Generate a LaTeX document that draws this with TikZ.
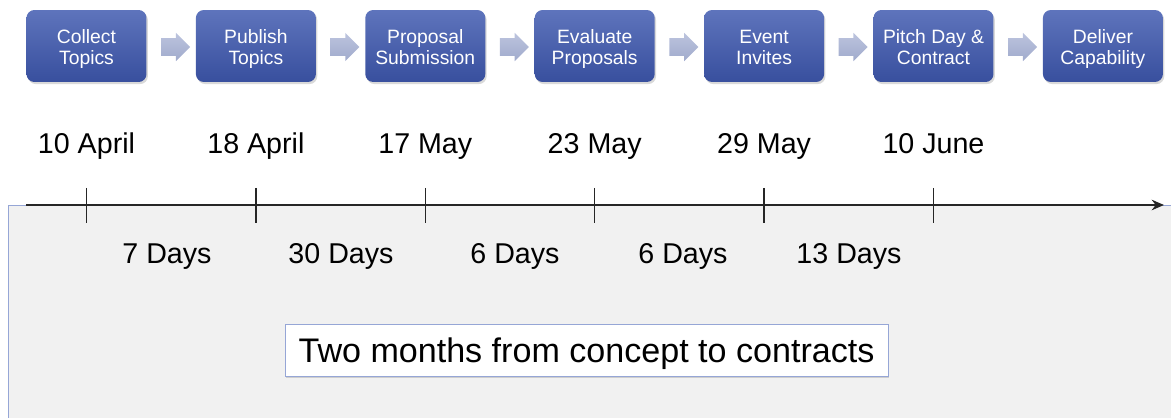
\documentclass[tikz,border=0pt]{standalone}
\usepackage{fontspec}
\setmainfont{Liberation Sans}
\usetikzlibrary{shapes.arrows,shadows,arrows.meta}

\definecolor{boxtop}{RGB}{94,116,188}
\definecolor{boxbot}{RGB}{56,79,158}
\definecolor{flowtop}{RGB}{188,196,222}
\definecolor{flowbot}{RGB}{160,170,204}
\definecolor{panelgray}{RGB}{241,241,241}
\definecolor{panelline}{RGB}{150,166,214}

\begin{document}
\begin{tikzpicture}[x=0.02cm,y=-0.02cm,
  stepbox/.style={rectangle, rounded corners=4.5pt, top color=boxtop, bottom color=boxbot, text=white,
    minimum width=2.4cm, minimum height=1.44cm, align=center, font=\fontsize{11}{12}\selectfont,
    text height=23pt, text depth=2pt,
    drop shadow={opacity=0.3, shadow xshift=0.8pt, shadow yshift=-1.2pt}},
  flow/.style={single arrow, top color=flowtop, bottom color=flowbot, minimum height=0.58cm,
    inner xsep=0pt, inner ysep=4.8pt, single arrow head extend=3.1pt},
  datelabel/.style={font=\fontsize{16.3}{19}\selectfont, text height=11.7pt, text depth=0pt},
  tickline/.style={line width=0.7pt, black!85}]
\useasboundingbox (0,0) rectangle (1171,418);

% grey panel under the time axis
\draw[panelline, fill=panelgray] (8,205) rectangle (1180,430);

% process steps
\node[stepbox] (s1) at (86.5,46) {Collect\\Topics};
\node[stepbox] (s2) at (255.9,46) {Publish\\Topics};
\node[stepbox] (s3) at (425.3,46) {Proposal\\Submission};
\node[stepbox] (s4) at (594.7,46) {Evaluate\\Proposals};
\node[stepbox] (s5) at (764.1,46) {Event\\Invites};
\node[stepbox] (s6) at (933.5,46) {Pitch Day \&\\Contract};
\node[stepbox] (s7) at (1102.9,46) {Deliver\\Capability};

\node[flow] (f1) at (171.2,47) {};
\node[flow] (f2) at (340.6,47) {};
\node[flow] (f3) at (510.0,47) {};
\node[flow] (f4) at (679.4,47) {};
\node[flow] (f5) at (848.8,47) {};
\node[flow] (f6) at (1018.2,47) {};

% dates
\node[datelabel] (d1) at (86.5,143) {10 April};
\node[datelabel] (d2) at (255.9,143) {18 April};
\node[datelabel] (d3) at (425.3,143) {17 May};
\node[datelabel] (d4) at (594.7,143) {23 May};
\node[datelabel] (d5) at (764.1,143) {29 May};
\node[datelabel] (d6) at (933.5,143) {10 June};

% time axis
\coordinate (a0) at (26,205);
\coordinate (a1) at (1164,205);
\draw[line width=1pt, black!85, -{Stealth[length=7pt,width=6pt]}] (a0) -- (a1);
\draw[tickline] (86.5,188) -- (86.5,223);
\draw[tickline] (255.9,188) -- (255.9,223);
\draw[tickline] (425.3,188) -- (425.3,223);
\draw[tickline] (594.7,188) -- (594.7,223);
\draw[tickline] (764.1,188) -- (764.1,223);
\draw[tickline] (933.5,188) -- (933.5,223);

% durations
\node[datelabel] (n1) at (167,253) {7 Days};
\node[datelabel] (n2) at (341,253) {30 Days};
\node[datelabel] (n3) at (515,253) {6 Days};
\node[datelabel] (n4) at (683,253) {6 Days};
\node[datelabel] (n5) at (849,253) {13 Days};

\node[draw=panelline, fill=white, minimum width=12.06cm, minimum height=1.04cm,
  font=\fontsize{19.4}{22}\selectfont, text height=13.9pt, text depth=0pt,
  drop shadow={opacity=0.3, shadow xshift=0.8pt, shadow yshift=-1.2pt}] (sum) at (586.5,350) {Two months from concept to contracts};
\end{tikzpicture}
\end{document}
